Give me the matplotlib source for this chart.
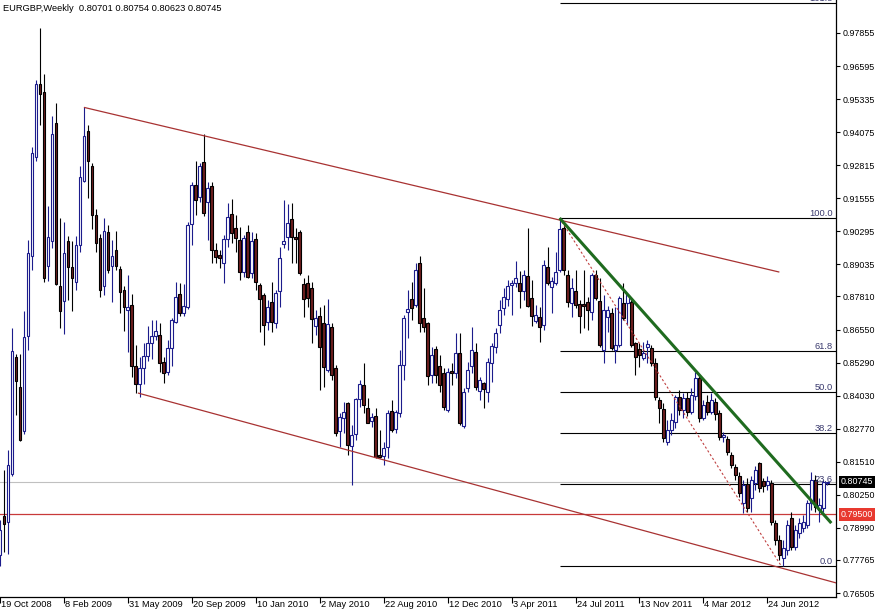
import numpy as np
import pandas as pd
import matplotlib
matplotlib.use("Agg")
import matplotlib.pyplot as plt
import matplotlib.transforms as mtransforms

plt.rcParams['font.family'] = ['Liberation Sans', 'DejaVu Sans']

symbol = "EURGBP,Weekly"
first_week = "2008-10-19"

# weekly OHLC (one row of 10 bars per line)
opens = [
    0.7795, 0.7944, 0.7921, 0.8104, 0.8550, 0.8436, 0.8268, 0.8630, 0.8935, 0.9313,
    0.9591, 0.9561, 0.8897, 0.8993, 0.9442, 0.8821, 0.8764, 0.8993, 0.8893, 0.8836,
    0.8977, 0.9221, 0.9412, 0.9278, 0.9092, 0.9004, 0.8821, 0.9027, 0.8897, 0.8958,
    0.8886, 0.8806, 0.8730, 0.8750, 0.8516, 0.8447, 0.8508, 0.8554, 0.8604, 0.8630,
    0.8634, 0.8531, 0.8493, 0.8585, 0.8684, 0.8791, 0.8718, 0.8741, 0.9057, 0.9206,
    0.9160, 0.9294, 0.9141, 0.9202, 0.8958, 0.8939, 0.8908, 0.9000, 0.9095, 0.9042,
    0.8996, 0.8874, 0.9027, 0.8871, 0.9000, 0.8825, 0.8787, 0.8684, 0.8760, 0.8680,
    0.8802, 0.8981, 0.9008, 0.9076, 0.9008, 0.9027, 0.8829, 0.8832, 0.8813, 0.8669,
    0.8707, 0.8680, 0.8501, 0.8665, 0.8508, 0.8268, 0.8318, 0.8375, 0.8211, 0.8257,
    0.8390, 0.8444, 0.8356, 0.8306, 0.8325, 0.8177, 0.8173, 0.8207, 0.8344, 0.8276,
    0.8337, 0.8520, 0.8722, 0.8771, 0.8749, 0.8908, 0.8699, 0.8680, 0.8482, 0.8581,
    0.8516, 0.8489, 0.8348, 0.8497, 0.8489, 0.8566, 0.8287, 0.8432, 0.8516, 0.8570,
    0.8421, 0.8451, 0.8417, 0.8528, 0.8589, 0.8672, 0.8737, 0.8771, 0.8825, 0.8832,
    0.8832, 0.8802, 0.8859, 0.8775, 0.8688, 0.8703, 0.8672, 0.8893, 0.8817, 0.8832,
    0.8882, 0.9042, 0.8863, 0.8756, 0.8802, 0.8752, 0.8752, 0.8760, 0.8722, 0.8863,
    0.8764, 0.8577, 0.8703, 0.8718, 0.8577, 0.8596, 0.8756, 0.8756, 0.8760, 0.8604,
    0.8581, 0.8547, 0.8589, 0.8585, 0.8528, 0.8386, 0.8352, 0.8226, 0.8272, 0.8302,
    0.8398, 0.8348, 0.8394, 0.8341, 0.8402, 0.8470, 0.8318, 0.8379, 0.8341, 0.8379,
    0.8337, 0.8245, 0.8238, 0.8177, 0.8131, 0.8097, 0.7994, 0.8066, 0.8013, 0.8070,
    0.8146, 0.8078, 0.8062, 0.8070, 0.7917, 0.7853, 0.7784, 0.7815, 0.7936, 0.7826,
    0.7880, 0.7899, 0.7910, 0.7994, 0.8082, 0.7967, 0.7975, 0.80701,
]
highs = [
    0.7929, 0.8120, 0.8196, 0.8661, 0.8561, 0.8561, 0.8726, 0.8996, 0.9351, 0.9606,
    0.9805, 0.9629, 0.9126, 0.9469, 0.9519, 0.9080, 0.9065, 0.9012, 0.8993, 0.9012,
    0.9278, 0.9502, 0.9435, 0.9290, 0.9115, 0.9019, 0.9080, 0.9053, 0.8996, 0.9031,
    0.8897, 0.8821, 0.8863, 0.8791, 0.8596, 0.8550, 0.8604, 0.8668, 0.8691, 0.8691,
    0.8680, 0.8550, 0.8615, 0.8699, 0.8836, 0.8832, 0.8829, 0.9065, 0.9217, 0.9298,
    0.9290, 0.9400, 0.9217, 0.9217, 0.8985, 0.8958, 0.9015, 0.9137, 0.9153, 0.9091,
    0.9046, 0.9015, 0.9053, 0.9027, 0.9023, 0.8832, 0.8794, 0.8768, 0.8836, 0.8806,
    0.8970, 0.9149, 0.9134, 0.9137, 0.9042, 0.9034, 0.8852, 0.8863, 0.8836, 0.8730,
    0.8741, 0.8749, 0.8771, 0.8680, 0.8520, 0.8337, 0.8379, 0.8379, 0.8291, 0.8394,
    0.8463, 0.8528, 0.8394, 0.8337, 0.8356, 0.8272, 0.8226, 0.8348, 0.8386, 0.8348,
    0.8577, 0.8711, 0.8806, 0.8836, 0.8908, 0.8935, 0.8813, 0.8684, 0.8589, 0.8592,
    0.8558, 0.8508, 0.8508, 0.8528, 0.8642, 0.8642, 0.8432, 0.8531, 0.8665, 0.8604,
    0.8474, 0.8455, 0.8547, 0.8604, 0.8661, 0.8768, 0.8813, 0.8844, 0.8844, 0.8916,
    0.8878, 0.8882, 0.9042, 0.8844, 0.8749, 0.8741, 0.8920, 0.8970, 0.8855, 0.8951,
    0.9080, 0.9065, 0.8882, 0.8852, 0.8882, 0.8768, 0.8882, 0.8779, 0.8871, 0.8882,
    0.8852, 0.8787, 0.8745, 0.8737, 0.8741, 0.8783, 0.8832, 0.8794, 0.8768, 0.8608,
    0.8604, 0.8608, 0.8615, 0.8596, 0.8547, 0.8398, 0.8375, 0.8310, 0.8337, 0.8405,
    0.8425, 0.8413, 0.8417, 0.8432, 0.8493, 0.8482, 0.8386, 0.8405, 0.8413, 0.8394,
    0.8348, 0.8264, 0.8249, 0.8188, 0.8143, 0.8112, 0.8082, 0.8089, 0.8097, 0.8135,
    0.8150, 0.8089, 0.8097, 0.8082, 0.7929, 0.7872, 0.7853, 0.7929, 0.7959, 0.7910,
    0.7936, 0.7948, 0.8005, 0.8112, 0.8101, 0.8013, 0.8082, 0.80754,
]
lows = [
    0.7753, 0.7807, 0.7799, 0.8097, 0.8331, 0.8230, 0.8257, 0.8577, 0.8882, 0.9298,
    0.9435, 0.8836, 0.8840, 0.8966, 0.8825, 0.8661, 0.8638, 0.8768, 0.8726, 0.8806,
    0.8951, 0.9217, 0.9155, 0.9038, 0.8951, 0.8779, 0.8787, 0.8869, 0.8760, 0.8882,
    0.8718, 0.8649, 0.8569, 0.8474, 0.8413, 0.8399, 0.8447, 0.8535, 0.8542, 0.8615,
    0.8493, 0.8451, 0.8482, 0.8516, 0.8678, 0.8707, 0.8707, 0.8733, 0.8977, 0.9092,
    0.9141, 0.9088, 0.8996, 0.8909, 0.8909, 0.8890, 0.8832, 0.8970, 0.8985, 0.8951,
    0.8844, 0.8855, 0.8852, 0.8852, 0.8806, 0.8646, 0.8596, 0.8653, 0.8646, 0.8661,
    0.8741, 0.8966, 0.8958, 0.8908, 0.8908, 0.8863, 0.8703, 0.8741, 0.8604, 0.8634,
    0.8425, 0.8436, 0.8493, 0.8463, 0.8249, 0.8207, 0.8261, 0.8177, 0.8062, 0.8234,
    0.8360, 0.8337, 0.8299, 0.8284, 0.8165, 0.8165, 0.8139, 0.8165, 0.8264, 0.8261,
    0.8322, 0.8463, 0.8623, 0.8691, 0.8741, 0.8646, 0.8646, 0.8444, 0.8451, 0.8451,
    0.8417, 0.8348, 0.8341, 0.8444, 0.8470, 0.8291, 0.8280, 0.8417, 0.8489, 0.8425,
    0.8386, 0.8356, 0.8379, 0.8455, 0.8566, 0.8642, 0.8711, 0.8745, 0.8711, 0.8817,
    0.8737, 0.8768, 0.8741, 0.8669, 0.8680, 0.8608, 0.8653, 0.8825, 0.8718, 0.8825,
    0.8874, 0.8863, 0.8741, 0.8703, 0.8737, 0.8642, 0.8661, 0.8653, 0.8691, 0.8768,
    0.8589, 0.8528, 0.8646, 0.8577, 0.8528, 0.8589, 0.8691, 0.8672, 0.8589, 0.8482,
    0.8512, 0.8539, 0.8528, 0.8516, 0.8386, 0.8299, 0.8226, 0.8215, 0.8253, 0.8280,
    0.8329, 0.8318, 0.8325, 0.8333, 0.8386, 0.8302, 0.8310, 0.8329, 0.8333, 0.8310,
    0.8234, 0.8226, 0.8177, 0.8127, 0.8082, 0.8017, 0.7956, 0.7960, 0.7960, 0.8043,
    0.8036, 0.8036, 0.8043, 0.7910, 0.7834, 0.7777, 0.7753, 0.7796, 0.7815, 0.7815,
    0.7861, 0.7884, 0.7899, 0.7967, 0.7960, 0.7921, 0.7960, 0.80623,
]
closes = [
    0.7891, 0.7914, 0.8139, 0.8573, 0.8459, 0.8234, 0.8627, 0.8947, 0.9328, 0.9591,
    0.9553, 0.8851, 0.9008, 0.9400, 0.8829, 0.8726, 0.8947, 0.8893, 0.8851, 0.8977,
    0.9237, 0.9393, 0.9298, 0.9092, 0.8985, 0.8806, 0.9031, 0.8882, 0.8935, 0.8897,
    0.8798, 0.8741, 0.8741, 0.8516, 0.8447, 0.8508, 0.8554, 0.8604, 0.8630, 0.8649,
    0.8527, 0.8489, 0.8585, 0.8691, 0.8779, 0.8718, 0.8745, 0.9053, 0.9206, 0.9149,
    0.9278, 0.9099, 0.9195, 0.8958, 0.8932, 0.8928, 0.9000, 0.9084, 0.9023, 0.9004,
    0.8874, 0.9004, 0.8855, 0.8993, 0.8836, 0.8771, 0.8672, 0.8741, 0.8684, 0.8794,
    0.8928, 0.8993, 0.9061, 0.9008, 0.9000, 0.8871, 0.8771, 0.8775, 0.8695, 0.8699,
    0.8589, 0.8512, 0.8676, 0.8482, 0.8261, 0.8322, 0.8341, 0.8215, 0.8253, 0.8390,
    0.8447, 0.8367, 0.8299, 0.8322, 0.8169, 0.8169, 0.8204, 0.8337, 0.8272, 0.8341,
    0.8520, 0.8699, 0.8733, 0.8737, 0.8882, 0.8680, 0.8665, 0.8478, 0.8558, 0.8482,
    0.8444, 0.8360, 0.8493, 0.8489, 0.8566, 0.8299, 0.8417, 0.8501, 0.8577, 0.8436,
    0.8463, 0.8428, 0.8531, 0.8592, 0.8642, 0.8730, 0.8779, 0.8821, 0.8832, 0.8852,
    0.8802, 0.8863, 0.8745, 0.8707, 0.8711, 0.8665, 0.8901, 0.8832, 0.8840, 0.8874,
    0.9038, 0.8882, 0.8760, 0.8813, 0.8749, 0.8707, 0.8745, 0.8730, 0.8863, 0.8775,
    0.8596, 0.8730, 0.8730, 0.8585, 0.8596, 0.8775, 0.8699, 0.8787, 0.8596, 0.8550,
    0.8558, 0.8566, 0.8600, 0.8528, 0.8398, 0.8356, 0.8242, 0.8272, 0.8310, 0.8398,
    0.8348, 0.8394, 0.8341, 0.8405, 0.8470, 0.8318, 0.8367, 0.8341, 0.8386, 0.8333,
    0.8245, 0.8253, 0.8188, 0.8139, 0.8101, 0.8032, 0.8062, 0.7975, 0.8082, 0.8120,
    0.8051, 0.8058, 0.8078, 0.7921, 0.7853, 0.7796, 0.7822, 0.7910, 0.7826, 0.7891,
    0.7917, 0.7921, 0.7994, 0.8082, 0.7979, 0.7986, 0.8074, 0.80745,
]

last_bid = 0.80745
alert_level = 0.79500

# fibonacci retracement anchored on the May 2011 high and the July 2012 low
fib_high = 0.90802
fib_low = 0.77535
fib_start_bar = 140
fib_ratios = [0.0, 23.6, 38.2, 50.0, 61.8, 100.0, 161.8]

# drawn objects: (bar, price) end points
channel_top = [(21, 0.9502), (195, 0.8874)]
channel_bottom = [(34.5, 0.8413), (209.2, 0.7689)]
trend_line = [(140, 0.9080), (208, 0.7917)]
fib_diagonal = [(140, 0.9080), (195.5, 0.7753)]

price_ticks = [0.97855, 0.96595, 0.95335, 0.94075, 0.92815, 0.91555, 0.90295,
               0.89035, 0.87810, 0.86550, 0.85290, 0.84030, 0.82770, 0.81510,
               0.80250, 0.78990, 0.77765, 0.76505]
date_ticks = ["19 Oct 2008", "8 Feb 2009", "31 May 2009", "20 Sep 2009",
              "10 Jan 2010", "2 May 2010", "22 Aug 2010", "12 Dec 2010",
              "3 Apr 2011", "24 Jul 2011", "13 Nov 2011", "4 Mar 2012",
              "24 Jun 2012"]

W, H = 876, 613
fs = 6.4
fig = plt.figure(figsize=(W / 100, H / 100), dpi=100)
ax = fig.add_axes([0, 16 / H, 836 / W, 597 / H])

o = np.array(opens)
h = np.array(highs)
l = np.array(lows)
c = np.array(closes)
x = np.arange(len(c))
up = c >= o

bull = '#1c1c8c'
bear = '#6e1e1e'
ax.vlines(x[up], l[up], h[up], color=bull, lw=0.8, zorder=3)
ax.vlines(x[~up], l[~up], h[~up], color='black', lw=0.8, zorder=3)
ax.bar(x[up], c[up] - o[up], bottom=o[up], width=0.7, facecolor='white',
       edgecolor=bull, lw=0.8, zorder=4)
ax.bar(x[~up], o[~up] - c[~up], bottom=c[~up], width=0.7, facecolor=bear,
       edgecolor='black', lw=0.8, zorder=4)

xmin, xmax = 0.17, 209.17
ax.set_xlim(xmin, xmax)
ax.set_ylim(0.76353, 0.99113)

# horizontal lines
ax.axhline(last_bid, color='#c0c0c0', lw=0.8, zorder=1)
ax.axhline(alert_level, color='#c83a3a', lw=0.9, zorder=1)

# fibo levels
rng = fib_high - fib_low
trans_r = mtransforms.blended_transform_factory(ax.transAxes, ax.transData)
for r in fib_ratios:
    lev = fib_low + rng * r / 100.0
    ax.hlines(lev, fib_start_bar, xmax, color='black', lw=0.8, zorder=2)
    ax.text(0.996, lev, "%.1f" % r, transform=trans_r, ha='right', va='bottom',
            fontsize=fs + 0.3, color='#3a3a6e', clip_on=False, zorder=5)

# trend lines
for pts, col, lw, ls in [(channel_top, '#a83232', 0.9, '-'),
                         (channel_bottom, '#a83232', 0.9, '-'),
                         (fib_diagonal, '#c04040', 0.8, (0, (2, 2))),
                         (trend_line, '#1f6b1f', 2.2, '-')]:
    px, py = zip(*pts)
    ax.plot(px, py, color=col, lw=lw, ls=ls, zorder=6, solid_capstyle='butt')

# axes look
for s in ['top', 'left']:
    ax.spines[s].set_visible(False)
for s in ['right', 'bottom']:
    ax.spines[s].set_linewidth(0.9)
    ax.spines[s].set_color('black')

ax.yaxis.tick_right()
ax.set_yticks(price_ticks)
ax.set_yticklabels(["%.5f" % v for v in price_ticks])
ax.tick_params(axis='y', direction='out', length=3, width=0.8,
               labelsize=fs, pad=2)

bars = pd.date_range(first_week, periods=len(c), freq='7D')
tick_pos = [(pd.to_datetime(d, format="%d %b %Y") - bars[0]).days / 7.0 for d in date_ticks]
ax.set_xticks(tick_pos)
ax.set_xticklabels([])
ax.tick_params(axis='x', direction='out', length=4, width=0.8)
trans_x = mtransforms.offset_copy(
    mtransforms.blended_transform_factory(ax.transData, ax.transAxes),
    fig=fig, x=1, y=-3, units='dots')
for p, lab in zip(tick_pos, date_ticks):
    ax.text(p, 0, lab, transform=trans_x, ha='left', va='top', fontsize=fs + 0.3,
            clip_on=False)

# price boxes on the scale
trans_box = mtransforms.offset_copy(trans_r, fig=fig, x=5, y=0, units='dots')
for val, bg in [(last_bid, 'black'), (alert_level, '#e8392f')]:
    ax.text(1.0, val, "%.5f" % val, transform=trans_box, ha='left', va='center',
            color='white', fontsize=fs, clip_on=False, zorder=7,
            bbox=dict(boxstyle='square,pad=0.2', fc=bg, ec='none'))

fig.text(3 / W, 1 - 4 / H, "%s  %.5f %.5f %.5f %.5f" % (symbol, opens[-1], highs[-1], lows[-1], closes[-1]),
         ha='left', va='top', fontsize=fs + 0.3)

fig.savefig("out.png", dpi=100)
